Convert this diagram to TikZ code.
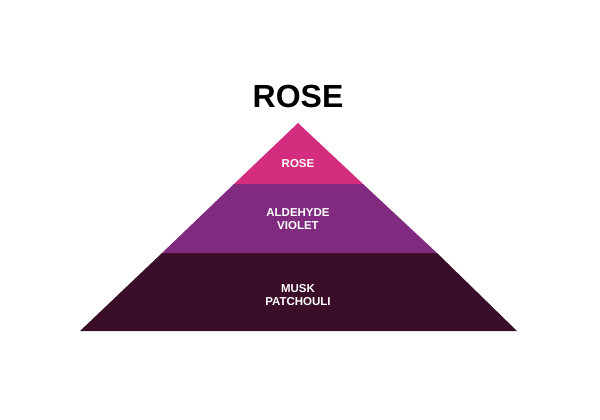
\documentclass[tikz,border=0pt]{standalone}
\usepackage{fontspec}
\setmainfont{Liberation Sans}
\definecolor{tierpink}{RGB}{212,44,126}
\definecolor{tierpurple}{RGB}{128,42,128}
\definecolor{tierdark}{RGB}{58,14,40}
\begin{document}
\begin{tikzpicture}[x=1pt,y=-1pt,
  tierlabel/.style={text=white,font=\bfseries\fontsize{11.5}{13.5}\selectfont,align=center,inner sep=0pt},
  title/.style={font=\bfseries\fontsize{32}{36}\selectfont,inner sep=0pt}]
\useasboundingbox (0,0) rectangle (600,420);
\fill[tierdark] (162,253) -- (437,253) -- (517,331) -- (80,331) -- cycle;
\fill[tierpurple] (234,184) -- (363,184) -- (437,253) -- (162,253) -- cycle;
\fill[tierpink] (298,123) -- (363,184) -- (234,184) -- cycle;
\node[title] (t) at (298,96) {ROSE};
\node[tierlabel] (top) at (298,164) {ROSE};
\node[tierlabel] (mid) at (298,219) {ALDEHYDE\\VIOLET};
\node[tierlabel] (base) at (298,295) {MUSK\\PATCHOULI};
\end{tikzpicture}
\end{document}
